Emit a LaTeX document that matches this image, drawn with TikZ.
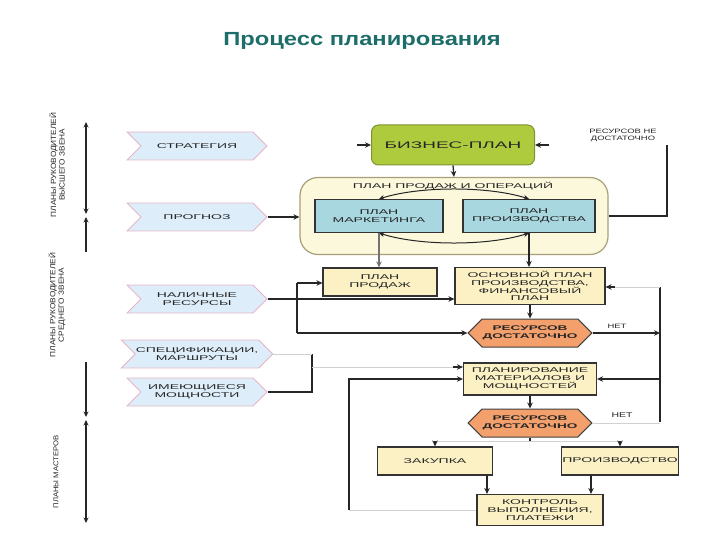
\documentclass[tikz,border=0pt]{standalone}
\usepackage{fontspec}
\setmainfont{Liberation Sans}
\newfontfamily\wfnt[FakeStretch=2.0]{Liberation Sans}
\newfontfamily\sfnt[FakeStretch=1.5]{Liberation Sans}
\newfontfamily\nfnt[FakeStretch=1.1]{Liberation Sans}
\newfontfamily\tfnt[FakeStretch=1.25]{Liberation Sans}
\usetikzlibrary{arrows.meta,shapes.symbols,calc}
\definecolor{cream}{HTML}{FBF1C4}
\definecolor{contfill}{HTML}{FCF8DC}
\definecolor{contline}{HTML}{A89F7A}
\definecolor{bluebox}{HTML}{A8D7E0}
\definecolor{greenbox}{HTML}{AECB3E}
\definecolor{greenline}{HTML}{7E9230}
\definecolor{orangebox}{HTML}{F4A06C}
\definecolor{chevfill}{HTML}{DDEEFA}
\definecolor{chevline}{HTML}{E6B4C4}
\definecolor{titlecol}{HTML}{1D6E6A}
\begin{document}
\begin{tikzpicture}[x=1pt,y=-1pt,
  txt/.style={font=\wfnt\fontsize{7}{7.8}\selectfont, align=center, text=black!85},
  smalltxt/.style={font=\sfnt\fontsize{6.3}{7}\selectfont, align=center, text=black!85},
  box/.style={txt, draw=black!80, fill=cream, line width=1.1pt, inner sep=0.5pt},
  chev/.style={txt, signal, signal from=west, signal to=east, signal pointer angle=90,
     draw=chevline, fill=chevfill, line width=0.8pt, minimum width=140pt, minimum height=28pt, inner sep=0.5pt},
  hexa/.style={txt, font=\wfnt\bfseries\fontsize{6.8}{7.6}\selectfont, signal, signal to=west and east, signal pointer angle=90,
     draw=black!75, fill=orangebox, line width=1pt, minimum width=114pt, minimum height=28pt, inner sep=0.5pt},
  vlab/.style={font=\nfnt\fontsize{7.5}{8.3}\selectfont, align=center, rotate=90, text=black!85},
  arr/.style={draw=black!85, line width=1.3pt, -{Stealth[length=6pt,width=5.5pt]}},
  ln/.style={draw=black!85, line width=1.3pt},
  faint/.style={draw=black!18, line width=0.5pt},
  darr/.style={draw=black!85, line width=1pt, {Stealth[length=5.5pt,width=5pt]}-{Stealth[length=5.5pt,width=5pt]}}
]
\useasboundingbox (0,0) rectangle (720,540);
% title
\node[font=\tfnt\bfseries\fontsize{19}{22}\selectfont, text=titlecol] (title) at (362,41) {Процесс планирования};
% left labels and level arrows
\node[vlab] (lab1) at (57,165) {ПЛАНЫ РУКОВОДИТЕЛЕЙ\\ВЫСШЕГО ЗВЕНА};
\node[vlab] (lab2) at (57,305) {ПЛАНЫ РУКОВОДИТЕЛЕЙ\\СРЕДНЕГО ЗВЕНА};
\node[vlab, font=\nfnt\fontsize{7}{8}\selectfont] (lab3) at (56,472) {ПЛАНЫ МАСТЕРОВ};
\coordinate (a1t) at (86,122); \coordinate (a1b) at (86,214);
\coordinate (a2t) at (86,217); \coordinate (a2m) at (86,252);
\coordinate (a2n) at (86,362); \coordinate (a2b) at (86,417);
\coordinate (a3t) at (86,420); \coordinate (a3b) at (86,523);
\draw[darr, line width=1.5pt] (a1t) -- (a1b);
\draw[ln, line width=1.5pt, {Stealth[length=5.5pt,width=5pt]}-] (a2t) -- (a2m);
\draw[ln, line width=1.5pt, -{Stealth[length=5.5pt,width=5pt]}] (a2n) -- (a2b);
\draw[darr, line width=1.5pt] (a3t) -- (a3b);
% input chevrons
\node[chev] (strat) at (197,146) {СТРАТЕГИЯ};
\node[chev] (prog) at (197,217) {ПРОГНОЗ};
\node[chev] (nal) at (197,299) {НАЛИЧНЫЕ\\РЕСУРСЫ};
\node[chev] (spec) at (197,354) {СПЕЦИФИКАЦИИ,\\МАРШРУТЫ};
\node[chev] (imeu) at (197,392) {ИМЕЮЩИЕСЯ\\МОЩНОСТИ};
% business plan
\node[txt, font=\wfnt\fontsize{9.5}{10}\selectfont, draw=greenline, fill=greenbox, line width=1pt,
      rounded corners=7pt, minimum width=163pt, minimum height=40pt] (biz) at (453,145) {БИЗНЕС-ПЛАН};
% sales & operations plan container
\node[draw=contline, fill=contfill, line width=1.2pt, rounded corners=18pt,
      minimum width=308pt, minimum height=77pt] (spo) at (454,216) {};
\node[txt] (spot) at (453,186) {ПЛАН ПРОДАЖ И ОПЕРАЦИЙ};
\node[box, fill=bluebox, minimum width=128pt, minimum height=33pt] (mk) at (379,216) {ПЛАН\\МАРКЕТИНГА};
\node[box, fill=bluebox, minimum width=132pt, minimum height=33pt] (pr) at (529,216) {ПЛАН\\ПРОИЗВОДСТВА};
\node[smalltxt] (rnd) at (623,135) {РЕСУРСОВ НЕ\\ДОСТАТОЧНО};
% lower boxes
\node[box, minimum width=114pt, minimum height=28pt] (pp) at (380,282) {ПЛАН\\ПРОДАЖ};
\node[box, minimum width=150pt, minimum height=37pt] (opp) at (530,286) {ОСНОВНОЙ ПЛАН\\ПРОИЗВОДСТВА,\\ФИНАНСОВЫЙ\\ПЛАН};
\node[hexa] (hex1) at (530,333) {РЕСУРСОВ\\ДОСТАТОЧНО};
\node[smalltxt] (net1) at (617,326) {НЕТ};
\node[box, minimum width=133pt, minimum height=32pt] (pmm) at (530,379) {ПЛАНИРОВАНИЕ\\МАТЕРИАЛОВ И\\МОЩНОСТЕЙ};
\node[hexa] (hex2) at (530,423) {РЕСУРСОВ\\ДОСТАТОЧНО};
\node[smalltxt, font=\sfnt\fontsize{7}{8}\selectfont] (net2) at (622,415) {НЕТ};
\node[box, minimum width=115pt, minimum height=28pt] (zak) at (435,461) {ЗАКУПКА};
\node[box, minimum width=114pt, minimum height=28pt] (proizv) at (620,461) {ПРОИЗВОДСТВО};
\node[box, minimum width=126pt, minimum height=31pt] (kontr) at (540,510) {КОНТРОЛЬ\\ВЫПОЛНЕНИЯ,\\ПЛАТЕЖИ};
% connectors: top part
\coordinate (bizl) at (357,145); \coordinate (bizr) at (549,145);
\draw[arr] (bizl) -- (biz.west);
\draw[arr] (bizr) -- (biz.east);
\draw[arr] (biz.south) -- (spo.north);
\draw[arr] (prog.east) -- (prog.east -| spo.west);
\draw[darr] (mk.north) .. controls (420,186) and (488,186) .. (pr.north);
\draw[darr] (mk.south) .. controls (420,246) and (488,246) .. (pr.south);
\coordinate (rn) at (667,145);
\draw[ln] (spo.east) -- (spo.east -| rn) -- (rn);
\draw[arr, draw=black!55] (mk.south) -- (mk.south |- pp.north);
\draw[arr] (pr.south) -- (pr.south |- opp.north);
% middle
\draw[arr] (opp.south) -- (hex1.north);
\coordinate (vt) at (660,287); \coordinate (vb) at (660,422);
\coordinate (oppin) at ($(opp.east)+(9,1)$);
\draw[ln] (vt) -- (vb);
\draw[arr] (hex1.east) -- (hex1.east -| vt);
\draw[faint] (vt) -- (oppin);
\draw[arr] (oppin) -- (oppin -| opp.east);
\draw[arr] (pmm.east -| vt) -- (pmm.east);
\draw[faint] (hex2.east) -- (hex2.east -| vt);
\coordinate (l1) at (297,283); \coordinate (l2) at (297,333);
\draw[ln] (l1) -- (l2);
\draw[arr] (l1) -- (l1 -| pp.west);
\draw[arr] (l2) -- (hex1.west);
\draw[arr] (nal.east) -- (nal.east -| opp.west);
\coordinate (mj) at (312,354); \coordinate (mk2) at (312,367);
\coordinate (pmmin) at (453,367);
\draw[ln] (imeu.east) -- (imeu.east -| mj) -- (mj);
\draw[faint] (spec.east) -- (mj);
\draw[faint] (mk2) -- (pmmin);
\draw[arr] (pmmin) -- (pmmin -| pmm.west);
\coordinate (lb) at (349,510); \coordinate (lt) at (349,379);
\draw[arr] (lb) -- (lt) -- (pmm.west);
\draw[faint] (kontr.west) -- (lb);
\draw[arr] (pmm.south) -- (hex2.north);
% bottom
\coordinate (sp) at (530,441);
\draw[ln] (hex2.south) -- (sp);
\draw[faint] (sp -| zak.north) -- (sp -| proizv.north);
\draw[arr] (sp -| zak.north) -- (zak.north);
\draw[arr] (sp -| proizv.north) -- (proizv.north);
\coordinate (zk) at (487,475);
\coordinate (pz) at (591,475);
\draw[arr] (zk) -- (zk |- kontr.north);
\draw[arr] (pz) -- (pz |- kontr.north);
\end{tikzpicture}
\end{document}
